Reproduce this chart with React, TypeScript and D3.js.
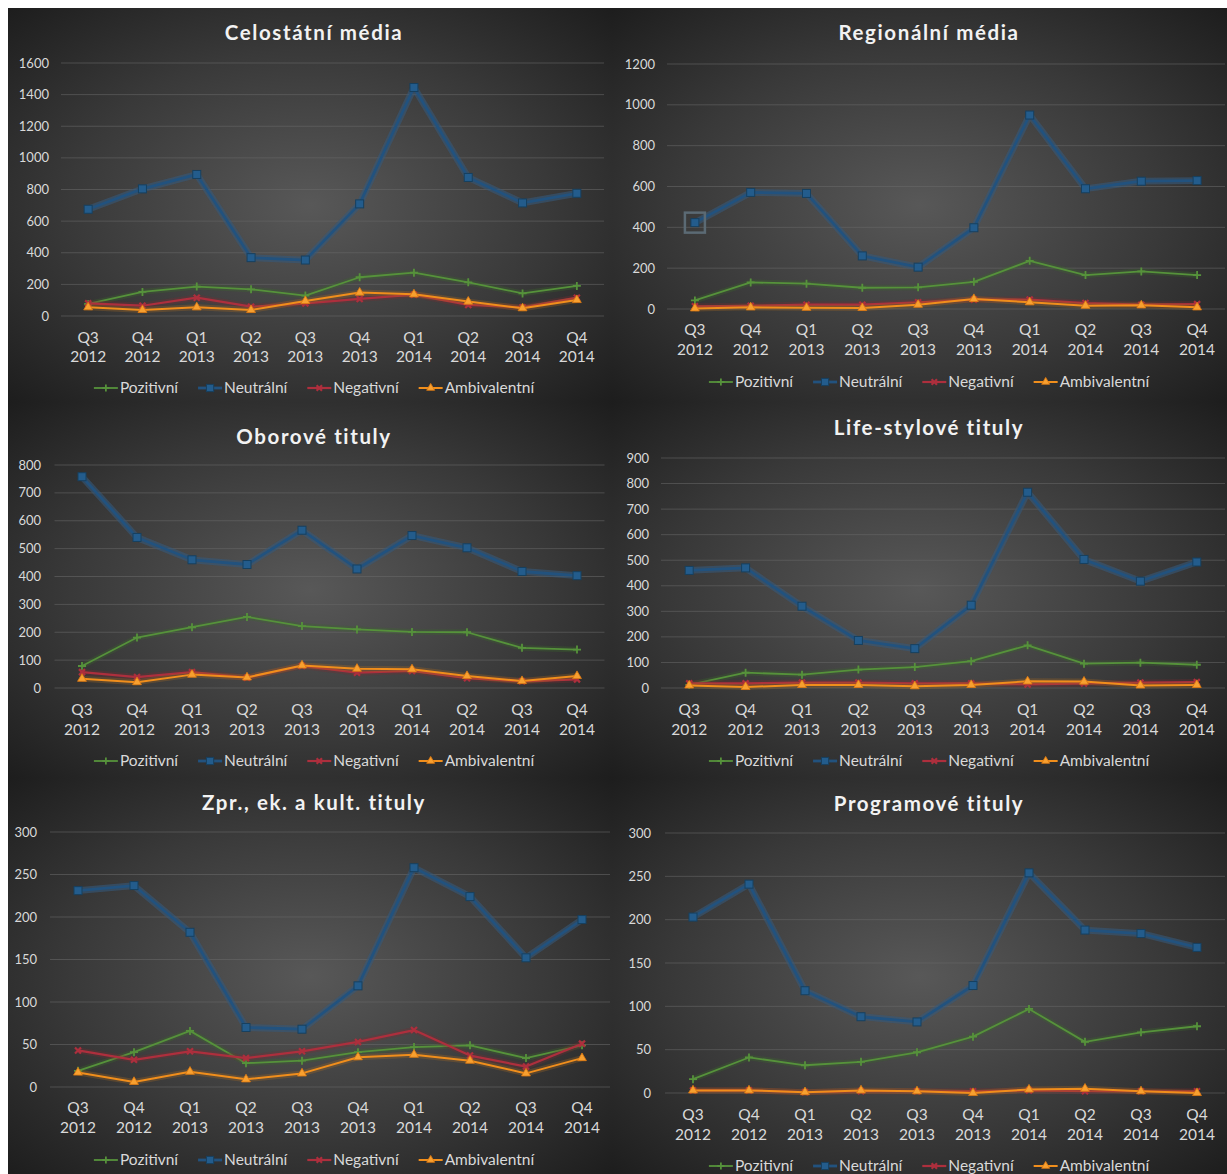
import React, { useEffect, useRef } from "react";
import * as d3 from "d3";

const categories = ["Q3 2012", "Q4 2012", "Q1 2013", "Q2 2013", "Q3 2013", "Q4 2013", "Q1 2014", "Q2 2014", "Q3 2014", "Q4 2014"];
const seriesNames = ["Pozitivní", "Neutrální", "Negativní", "Ambivalentní"];
const panelTitles = ["Celostátní média", "Regionální média", "Oborové tituly", "Life-stylové tituly", "Zpr., ek. a kult. tituly", "Programové tituly"];
const yMaxima = [1600, 1200, 800, 900, 300, 300];
const yTickSteps = [200, 200, 100, 100, 50, 50];

const celostatniPoz = [76, 152, 186, 169, 129, 245, 274, 213, 143, 190];
const celostatniNeu = [675, 804, 895, 369, 354, 709, 1445, 876, 715, 776];
const celostatniNeg = [80, 65, 116, 59, 80, 108, 135, 70, 55, 116];
const celostatniAmb = [55, 38, 55, 38, 95, 148, 137, 91, 49, 101];

const regionalniPoz = [42, 130, 124, 104, 106, 133, 236, 166, 184, 166];
const regionalniNeu = [423, 571, 566, 260, 205, 398, 950, 589, 626, 629];
const regionalniNeg = [13, 16, 21, 21, 33, 46, 46, 29, 21, 24];
const regionalniAmb = [3, 8, 6, 5, 21, 49, 33, 16, 18, 8];

const oborovePoz = [79, 181, 218, 255, 222, 210, 201, 200, 144, 138];
const oboroveNeu = [758, 540, 460, 443, 566, 427, 547, 503, 418, 403];
const oboroveNeg = [57, 39, 57, 37, 79, 55, 61, 35, 24, 31];
const oboroveAmb = [33, 21, 48, 38, 81, 69, 67, 43, 25, 43];

const lifestylePoz = [12, 60, 52, 72, 82, 105, 167, 95, 99, 91];
const lifestyleNeu = [460, 470, 320, 186, 154, 324, 766, 503, 418, 493];
const lifestyleNeg = [18, 18, 21, 21, 18, 18, 14, 18, 21, 23];
const lifestyleAmb = [10, 4, 12, 12, 7, 12, 26, 25, 10, 12];

const zprPoz = [19, 41, 66, 28, 31, 41, 47, 49, 34, 49];
const zprNeu = [231, 237, 182, 70, 68, 119, 258, 224, 152, 197];
const zprNeg = [43, 32, 42, 34, 42, 53, 67, 37, 24, 51];
const zprAmb = [17, 6, 18, 9, 16, 35, 38, 31, 16, 34];

const programPoz = [16, 41, 32, 36, 47, 65, 97, 59, 70, 77];
const programNeu = [203, 241, 118, 88, 82, 124, 254, 188, 184, 168];
const programNeg = [3, 3, 1, 2, 2, 2, 3, 2, 2, 2];
const programAmb = [3, 3, 1, 3, 2, 0, 4, 5, 2, 0];

const panelSeries = [
  [celostatniPoz, celostatniNeu, celostatniNeg, celostatniAmb],
  [regionalniPoz, regionalniNeu, regionalniNeg, regionalniAmb],
  [oborovePoz, oboroveNeu, oboroveNeg, oboroveAmb],
  [lifestylePoz, lifestyleNeu, lifestyleNeg, lifestyleAmb],
  [zprPoz, zprNeu, zprNeg, zprAmb],
  [programPoz, programNeu, programNeg, programAmb],
];

// layout (pixel geometry, kept separate from data)
const layouts = [
  { x0: 8, y0: 8, x1: 612, y1: 402, left: 61, right: 604, top: 63, bottom: 316, cx: 314, titleY: 33, xl1: 338, xl2: 357, legendY: 388, yLabelX: 49 },
  { x0: 612, y0: 8, x1: 1227, y1: 402, left: 667, right: 1225, top: 64, bottom: 309, cx: 929, titleY: 33, xl1: 330, xl2: 350, legendY: 382, yLabelX: 655 },
  { x0: 8, y0: 402, x1: 612, y1: 778, left: 54.5, right: 604.5, top: 465, bottom: 688, cx: 314, titleY: 437, xl1: 710, xl2: 730, legendY: 761, yLabelX: 41 },
  { x0: 612, y0: 402, x1: 1227, y1: 778, left: 661, right: 1225, top: 458, bottom: 688, cx: 929, titleY: 428, xl1: 710, xl2: 730, legendY: 761, yLabelX: 649 },
  { x0: 8, y0: 778, x1: 612, y1: 1174, left: 50, right: 610, top: 832, bottom: 1087, cx: 314, titleY: 803, xl1: 1108, xl2: 1128, legendY: 1160, yLabelX: 37 },
  { x0: 612, y0: 778, x1: 1227, y1: 1174, left: 665, right: 1225, top: 833, bottom: 1093, cx: 929, titleY: 804, xl1: 1115, xl2: 1135, legendY: 1166, yLabelX: 651 },
];

const styles = [
  { color: "#56923b", halo: "#3c6a2a", width: 1.8, marker: "plus" },
  { color: "#22527e", halo: "#35597a", width: 2.8, marker: "square" },
  { color: "#ad2f3d", halo: "#7a2a33", width: 2.2, marker: "x" },
  { color: "#f08e1c", halo: "#a86a22", width: 2.0, marker: "triangle" },
];

const FONT = "Lato, 'Open Sans', sans-serif";

function drawMarker(g: any, type: string, x: number, y: number, color: string, scale = 1) {
  if (type === "plus") {
    const s = 4 * scale;
    g.append("path").attr("d", `M${x - s},${y}H${x + s}M${x},${y - s}V${y + s}`)
      .attr("stroke", color).attr("stroke-width", 1.8).attr("fill", "none");
  } else if (type === "square") {
    const s = 4 * scale;
    g.append("rect").attr("x", x - s).attr("y", y - s).attr("width", 2 * s).attr("height", 2 * s)
      .attr("fill", "#235c8c").attr("stroke", "#17405f").attr("stroke-width", 1);
  } else if (type === "x") {
    const s = 3 * scale;
    g.append("path").attr("d", `M${x - s},${y - s}L${x + s},${y + s}M${x - s},${y + s}L${x + s},${y - s}`)
      .attr("stroke", color).attr("stroke-width", 2.2).attr("fill", "none");
  } else if (type === "triangle") {
    g.append("path").attr("d", d3.symbol(d3.symbolTriangle, 34 * scale * scale)())
      .attr("transform", `translate(${x},${y})`)
      .attr("fill", "#f7a030").attr("stroke", "#e07a10").attr("stroke-width", 0.8);
  }
}

export default function App() {
  const ref = useRef<SVGSVGElement>(null);

  useEffect(() => {
    const svg = d3.select(ref.current);
    svg.selectAll("*").remove();
    const defs = svg.append("defs");

    svg.append("rect").attr("width", 1227).attr("height", 1174).attr("fill", "#ffffff");

    layouts.forEach((L, pi) => {
      const gid = `bg${pi}`;
      const grad = defs.append("radialGradient").attr("id", gid)
        .attr("cx", "50%").attr("cy", "50%").attr("r", "72%");
      grad.append("stop").attr("offset", "0%").attr("stop-color", "#585858");
      grad.append("stop").attr("offset", "55%").attr("stop-color", "#393939");
      grad.append("stop").attr("offset", "100%").attr("stop-color", "#1c1c1c");

      const g = svg.append("g");
      g.append("rect").attr("x", L.x0).attr("y", L.y0).attr("width", L.x1 - L.x0).attr("height", L.y1 - L.y0)
        .attr("fill", `url(#${gid})`);

      const x = d3.scalePoint<string>().domain(categories).range([L.left, L.right]).padding(0.5);
      const y = d3.scaleLinear().domain([0, yMaxima[pi]]).range([L.bottom, L.top]);
      const ticks = d3.range(0, yMaxima[pi] + 1, yTickSteps[pi]);

      // gridlines
      g.append("g").selectAll("line").data(ticks).join("line")
        .attr("x1", L.left).attr("x2", L.right)
        .attr("y1", (d) => y(d)).attr("y2", (d) => y(d))
        .attr("stroke", "#6a6a6a").attr("stroke-width", 0.8).attr("opacity", 0.7);

      // y labels
      g.append("g").selectAll("text").data(ticks).join("text")
        .attr("x", L.yLabelX).attr("y", (d) => y(d)).attr("dy", "0.35em")
        .attr("text-anchor", "end").attr("fill", "#d9d9d9")
        .attr("font-family", FONT).attr("font-size", 13).text((d) => String(d));

      // x labels
      const xl = g.append("g");
      categories.forEach((c) => {
        const [q, yr] = c.split(" ");
        xl.append("text").attr("x", x(c)!).attr("y", L.xl1).attr("dy", "0.35em").attr("text-anchor", "middle")
          .attr("fill", "#d9d9d9").attr("font-family", FONT).attr("font-size", 15.5).text(q);
        xl.append("text").attr("x", x(c)!).attr("y", L.xl2).attr("dy", "0.35em").attr("text-anchor", "middle")
          .attr("fill", "#d9d9d9").attr("font-family", FONT).attr("font-size", 15.5).text(yr);
      });

      // title
      g.append("text").attr("x", L.cx).attr("y", L.titleY).attr("dy", "0.35em").attr("text-anchor", "middle")
        .attr("fill", "#f2f2f2").attr("font-family", FONT).attr("font-weight", 700).attr("font-size", 20.5)
        .attr("letter-spacing", 1.6).text(panelTitles[pi]);

      // series
      const line = d3.line<number>().x((_, i) => x(categories[i])!).y((d) => y(d));
      panelSeries[pi].forEach((vals, si) => {
        const st = styles[si];
        const sg = g.append("g");
        sg.append("path").attr("d", line(vals)).attr("fill", "none")
          .attr("stroke", st.halo).attr("stroke-width", st.width + 4).attr("opacity", si === 1 ? 0.6 : 0.3)
          .attr("stroke-linejoin", "round");
        sg.append("path").attr("d", line(vals)).attr("fill", "none")
          .attr("stroke", st.color).attr("stroke-width", st.width).attr("stroke-linejoin", "round");
        vals.forEach((v, i) => drawMarker(sg, st.marker, x(categories[i])!, y(v), st.color));
        if (pi === 1 && si === 1) {
          const px = x(categories[0])!, py = y(vals[0]);
          sg.append("rect").attr("x", px - 10).attr("y", py - 10).attr("width", 20).attr("height", 20)
            .attr("fill", "none").attr("stroke", "#5b6a74").attr("stroke-width", 2.5);
        }
      });

      // legend
      const lg = g.append("g");
      const items: { g: any; w: number }[] = [];
      seriesNames.forEach((name, si) => {
        const st = styles[si];
        const ig = lg.append("g");
        ig.append("line").attr("x1", 0).attr("x2", 24).attr("y1", 0).attr("y2", 0)
          .attr("stroke", st.color).attr("stroke-width", st.width);
        drawMarker(ig, st.marker, 12, 0, st.color, 0.9);
        const t = ig.append("text").attr("x", 26).attr("y", 0).attr("dy", "0.35em")
          .attr("fill", "#d9d9d9").attr("font-family", FONT).attr("font-size", 15.5).text(name);
        const tw = (t.node() as SVGTextElement).getComputedTextLength();
        items.push({ g: ig, w: 26 + tw });
      });
      const gap = 20;
      const total = d3.sum(items, (d) => d.w) + gap * (items.length - 1);
      let cur = L.cx - total / 2;
      items.forEach((it) => {
        it.g.attr("transform", `translate(${cur},${L.legendY})`);
        cur += it.w + gap;
      });
    });
  }, []);

  return (
    <svg ref={ref} width={1227} height={1174}
      style={{ position: "absolute", left: 0, top: 0, display: "block" }} />
  );
}
